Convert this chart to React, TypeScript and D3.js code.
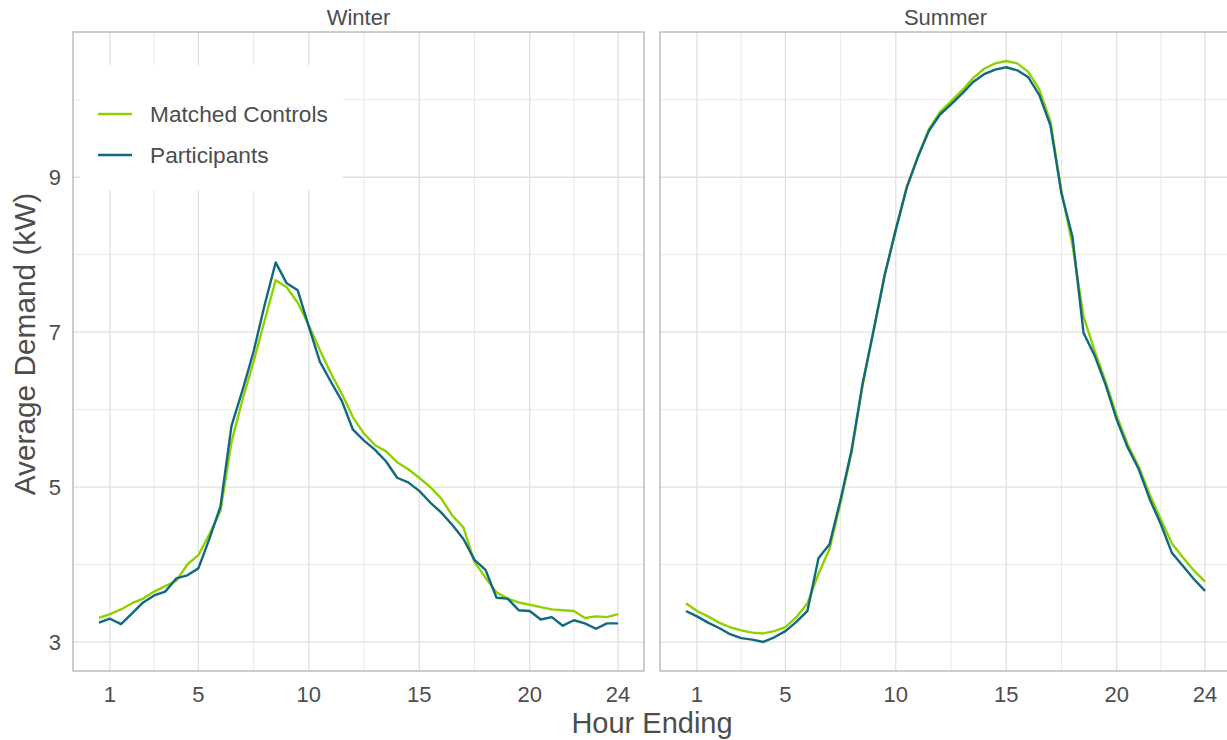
import React from "react";
import { scaleLinear, line, extent } from "d3";

// half-hourly readings, hour ending
const hours = [
  0.5, 1, 1.5, 2, 2.5, 3, 3.5, 4, 4.5, 5, 5.5, 6, 6.5, 7, 7.5, 8, 8.5, 9, 9.5, 10,
  10.5, 11, 11.5, 12, 12.5, 13, 13.5, 14, 14.5, 15, 15.5, 16, 16.5, 17, 17.5, 18,
  18.5, 19, 19.5, 20, 20.5, 21, 21.5, 22, 22.5, 23, 23.5, 24
];

const seasons = ["Winter", "Summer"];
const groups = ["Matched Controls", "Participants"];
const groupColors = ["#8fd100", "#11697f"];

const winterControls = [
  3.31, 3.36, 3.42, 3.5, 3.56, 3.65, 3.72, 3.79, 4.0, 4.12, 4.39, 4.69, 5.58, 6.13,
  6.62, 7.15, 7.67, 7.58, 7.38, 7.09, 6.77, 6.47, 6.2, 5.9, 5.69, 5.54, 5.46, 5.32,
  5.23, 5.12, 5.0, 4.85, 4.63, 4.48, 4.03, 3.83, 3.64, 3.56, 3.51, 3.48, 3.45, 3.42,
  3.41, 3.4, 3.31, 3.33, 3.32, 3.36
];
const winterParticipants = [
  3.25, 3.3, 3.23, 3.37, 3.51, 3.6, 3.65, 3.82, 3.86, 3.95, 4.33, 4.75, 5.79, 6.25,
  6.75, 7.35, 7.9, 7.63, 7.54, 7.07, 6.62, 6.36, 6.11, 5.74, 5.6, 5.48, 5.33, 5.12,
  5.06, 4.95, 4.8, 4.67, 4.51, 4.33, 4.06, 3.93, 3.57, 3.56, 3.41, 3.4, 3.29, 3.32,
  3.21, 3.28, 3.24, 3.17, 3.24, 3.24
];
const summerControls = [
  3.5, 3.4, 3.33, 3.25, 3.19, 3.15, 3.12, 3.11, 3.14, 3.19, 3.32, 3.5, 3.88, 4.2,
  4.8, 5.45, 6.32, 7.02, 7.74, 8.33, 8.88, 9.27, 9.62, 9.84, 9.98, 10.12, 10.28,
  10.4, 10.47, 10.5, 10.47, 10.36, 10.13, 9.72, 8.82, 8.12, 7.2, 6.76, 6.36, 5.92,
  5.55, 5.26, 4.9, 4.58, 4.27, 4.09, 3.92, 3.78
];
const summerParticipants = [
  3.4, 3.33, 3.25, 3.18, 3.1, 3.05, 3.03, 3.0, 3.06, 3.14, 3.26, 3.4, 4.08, 4.26,
  4.84, 5.48, 6.34, 7.03, 7.74, 8.32, 8.87, 9.26, 9.6, 9.81, 9.94, 10.08, 10.23,
  10.33, 10.39, 10.42, 10.38, 10.29, 10.06, 9.67, 8.79, 8.23, 6.99, 6.7, 6.32, 5.87,
  5.51, 5.23, 4.84, 4.52, 4.15, 3.98, 3.81, 3.66
];

const xBreaks = [1, 5, 10, 15, 20, 24];
const xMinor = [3, 7.5, 12.5, 17.5, 22];
const yBreaks = [3, 5, 7, 9];
const yMinor = [4, 6, 8, 10];

const seriesBySeason = [
  [winterControls, winterParticipants],
  [summerControls, summerParticipants]
];

const font = "'Liberation Sans', Arial, Helvetica, sans-serif";
const textCol = "#4d4d4d";
const gridCol = "#e0e0e0";
const borderCol = "#b3b3b3";

const width = 1227,
  height = 740;
const top = 32,
  bottom = 671;
const panels = [
  [73, 644],
  [660, 1231]
];

function expand(lo: number, hi: number) {
  const pad = (hi - lo) * 0.05;
  return [lo - pad, hi + pad];
}

function Panel({ idx }: { idx: number }) {
  const [x0, x1] = panels[idx];
  const allVals = seriesBySeason.flat(2);
  const [hMin, hMax] = extent(hours) as [number, number];
  const [vMin, vMax] = extent(allVals) as [number, number];

  const x = scaleLinear().domain(expand(hMin, hMax)).range([x0, x1]);
  const y = scaleLinear().domain(expand(vMin, vMax)).range([bottom, top]);

  const path = line<number>()
    .x((_, i) => x(hours[i]))
    .y(d => y(d));

  return (
    <g>
      <defs>
        <clipPath id={`clip${idx}`}>
          <rect x={x0} y={top} width={x1 - x0} height={bottom - top} />
        </clipPath>
      </defs>
      <g clipPath={`url(#clip${idx})`}>
        {yMinor.map(v => (
          <line key={"ym" + v} x1={x0} x2={x1} y1={y(v)} y2={y(v)} stroke={gridCol} strokeWidth={0.7} />
        ))}
        {xMinor.map(v => (
          <line key={"xm" + v} x1={x(v)} x2={x(v)} y1={top} y2={bottom} stroke={gridCol} strokeWidth={0.7} />
        ))}
        {yBreaks.map(v => (
          <line key={"y" + v} x1={x0} x2={x1} y1={y(v)} y2={y(v)} stroke={gridCol} strokeWidth={1.3} />
        ))}
        {xBreaks.map(v => (
          <line key={"x" + v} x1={x(v)} x2={x(v)} y1={top} y2={bottom} stroke={gridCol} strokeWidth={1.3} />
        ))}
        {seriesBySeason[idx].map((vals, g) => (
          <path
            key={groups[g]}
            d={path(vals) || ""}
            fill="none"
            stroke={groupColors[g]}
            strokeWidth={2.4}
            strokeLinejoin="round"
          />
        ))}
      </g>
      <rect x={x0} y={top} width={x1 - x0} height={bottom - top} fill="none" stroke={borderCol} strokeWidth={1.3} />
      <text x={(x0 + x1) / 2} y={25} textAnchor="middle" fontSize={22} fill={textCol}>
        {seasons[idx]}
      </text>
      {xBreaks.map(v => (
        <text key={"xl" + v} x={x(v)} y={702} textAnchor="middle" fontSize={22} fill={textCol}>
          {v}
        </text>
      ))}
      {idx === 0 &&
        yBreaks.map(v => (
          <text key={"yl" + v} x={61} y={y(v)} dy="0.36em" textAnchor="end" fontSize={22} fill={textCol}>
            {v}
          </text>
        ))}
    </g>
  );
}

function Legend() {
  return (
    <g>
      <rect x={80} y={65} width={263} height={125} fill="#ffffff" />
      {groups.map((g, i) => {
        const cy = 114 + i * 41;
        return (
          <g key={g}>
            <line x1={98} x2={132} y1={cy} y2={cy} stroke={groupColors[i]} strokeWidth={2.6} />
            <text x={150} y={cy} dy="0.36em" fontSize={22.7} fill={textCol}>
              {g}
            </text>
          </g>
        );
      })}
    </g>
  );
}

export default function App() {
  return (
    <svg
      width={width}
      height={height}
      style={{ position: "absolute", left: 0, top: 0, background: "#fff" }}
      fontFamily={font}
    >
      <rect width={width} height={height} fill="#fff" />
      {seasons.map((s, i) => (
        <Panel key={s} idx={i} />
      ))}
      <Legend />
      <text x={652} y={733} textAnchor="middle" fontSize={29} fill={textCol}>
        Hour Ending
      </text>
      <text
        transform="translate(35,344) rotate(-90)"
        textAnchor="middle"
        fontSize={29.8}
        fill={textCol}
      >
        Average Demand (kW)
      </text>
    </svg>
  );
}
